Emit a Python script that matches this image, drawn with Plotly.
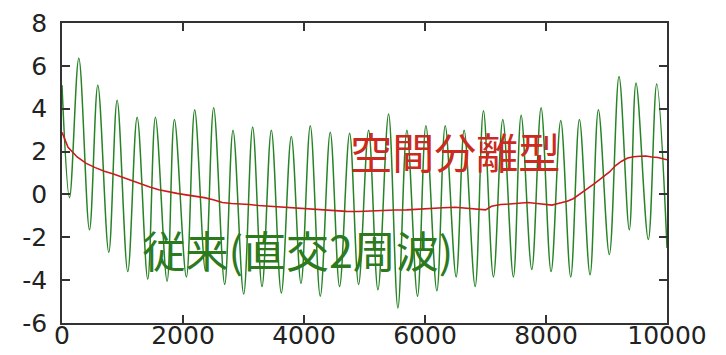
import plotly.graph_objects as go

# Conventional (orthogonal 2-frequency) signal: successive peaks/troughs
green_x = [0, 124, 278, 454, 592, 773, 911, 1087, 1242, 1417, 1544, 1737, 1858, 2056,
           2193, 2370, 2507, 2689, 2827, 3003, 3151, 3306, 3460, 3625, 3790, 3950,
           4104, 4269, 4434, 4588, 4754, 4902, 5068, 5222, 5398, 5552, 5701, 5876,
           6015, 6196, 6334, 6515, 6647, 6829, 6966, 7131, 7286, 7461, 7589, 7765,
           7919, 8084, 8244, 8409, 8552, 8728, 8866, 9047, 9207, 9377, 9488, 9691,
           9830, 10000]
green_y = [5.1, -0.15, 6.35, -1.65, 5.1, -2.7, 4.4, -3.6, 3.6, -3.95, 3.6, -4.05, 3.5, -3.85,
           3.95, -3.55, 4.05, -4.2, 3.0, -4.65, 3.15, -4.3, 3.0, -4.6, 2.7, -4.15,
           3.2, -4.75, 2.9, -4.3, 2.85, -4.2, 3.0, -4.45, 3.75, -5.3, 3.0, -4.75,
           3.2, -4.5, 3.2, -3.85, 3.0, -4.3, 3.9, -3.85, 3.5, -3.85, 3.7, -3.5,
           4.05, -3.6, 3.45, -3.85, 3.5, -3.75, 3.95, -2.8, 5.5, -1.65, 5.2, -2.1,
           5.15, -2.5]

# Spatial-separation type signal
red_x = [0, 100, 250, 400, 550, 700, 850, 1000, 1150, 1300, 1450, 1600, 1750, 1900,
         2050, 2200, 2350, 2500, 2650, 2800, 2950, 3100, 3250, 3400, 3500, 3700, 3900,
         4100, 4300, 4500, 4700, 4900, 5100, 5300, 5500, 5700, 5900, 6100, 6300, 6500,
         6700, 6900, 7000, 7100, 7250, 7400, 7550, 7700, 7850, 8000, 8100, 8200, 8350,
         8450, 8550, 8650, 8800, 8950, 9050, 9150, 9250, 9350, 9450, 9550, 9650, 9750,
         9850, 9950, 10000]
red_y = [2.9, 2.2, 1.75, 1.45, 1.25, 1.08, 0.95, 0.8, 0.65, 0.47, 0.35, 0.22, 0.12, 0.05,
         -0.02, -0.08, -0.15, -0.25, -0.38, -0.42, -0.43, -0.47, -0.52, -0.55, -0.57, -0.6, -0.65,
         -0.7, -0.74, -0.77, -0.79, -0.8, -0.77, -0.74, -0.73, -0.72, -0.68, -0.65, -0.62, -0.6,
         -0.65, -0.7, -0.72, -0.55, -0.47, -0.45, -0.4, -0.38, -0.42, -0.47, -0.5, -0.42, -0.32,
         -0.2, -0.02, 0.2, 0.5, 0.85, 1.05, 1.35, 1.55, 1.7, 1.76, 1.78, 1.79, 1.75,
         1.72, 1.65, 1.62]

x_ticks = [0, 2000, 4000, 6000, 8000, 10000]
y_ticks = [-6, -4, -2, 0, 2, 4, 6, 8]

label_green = "従来(直交2周波)"
label_red = "空間分離型"

fig = go.Figure()
fig.add_trace(go.Scatter(x=green_x, y=green_y, mode="lines",
                         line=dict(color="#268326", width=1.5, shape="spline", smoothing=1.0),
                         showlegend=False))
fig.add_trace(go.Scatter(x=red_x, y=red_y, mode="lines",
                         line=dict(color="#cc1a1a", width=1.6), showlegend=False))

# labels drawn as text-only scatter traces
fig.add_trace(go.Scatter(x=[1329], y=[-2.92], mode="text", text=[label_green],
                         textposition="middle right", showlegend=False, hoverinfo="skip",
                         textfont=dict(family="Noto Sans CJK JP", size=43, color="#2d7a1e")))
fig.add_trace(go.Scatter(x=[4764], y=[1.67], mode="text", text=[label_red],
                         textposition="middle right", showlegend=False, hoverinfo="skip",
                         textfont=dict(family="Noto Sans CJK JP", size=42, color="#cc2a1e")))

axis_common = dict(showline=True, mirror="ticks", linecolor="#333333", linewidth=1.5,
                   ticks="inside", ticklen=8, tickwidth=1.5, tickcolor="#333333",
                   showgrid=False, zeroline=False, automargin=False,
                   tickfont=dict(family="DejaVu Sans", size=25, color="#222222"))

fig.update_xaxes(range=[0, 10000], tickvals=x_ticks, ticktext=[str(v) for v in x_ticks],
                 ticklabelstandoff=-11, **axis_common)
fig.update_yaxes(range=[-6, 8], tickvals=y_ticks, ticktext=[str(v) for v in y_ticks],
                 ticklabelstandoff=8, **axis_common)

# page body adds an 8px offset; size the figure so the plot lands where the reference has it
fig.update_layout(width=718, height=347, margin=dict(l=54, r=59, t=15, b=32),
                  plot_bgcolor="white", paper_bgcolor="white")

fig.write_html("out.html")
